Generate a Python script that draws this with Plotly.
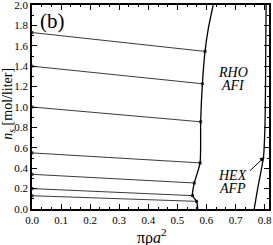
import plotly.graph_objects as go

# tie lines: left end at x=0 (value n), right end on the RHO/AFI boundary
tie_left_n = [1.73, 1.40, 1.00, 0.55, 0.34, 0.20, 0.13]
tie_right_x = [0.595, 0.586, 0.580, 0.578, 0.558, 0.552, 0.566]
tie_right_n = [1.545, 1.228, 0.855, 0.452, 0.255, 0.131, 0.075]

# RHO/AFI coexistence boundary
rho_x = [0.570, 0.566, 0.552, 0.558, 0.578, 0.580, 0.586, 0.595, 0.607, 0.623]
rho_n = [0.0, 0.075, 0.131, 0.255, 0.452, 0.855, 1.228, 1.545, 1.78, 2.0]

# HEX/AFP boundary
hex_x = [0.764, 0.776, 0.796, 0.801, 0.803, 0.805]
hex_n = [0.0, 0.2, 0.51, 0.8, 1.2, 2.0]

x_ticks = [0.0, 0.1, 0.2, 0.3, 0.4, 0.5, 0.6, 0.7, 0.8]
y_ticks = [0.0, 0.2, 0.4, 0.6, 0.8, 1.0, 1.2, 1.4, 1.6, 1.8, 2.0]

FONT = "Liberation Serif"
fig = go.Figure()

for ln, rx, rn in zip(tie_left_n, tie_right_x, tie_right_n):
    fig.add_trace(go.Scatter(x=[0.0, rx], y=[ln, rn], mode="lines+markers",
                             line=dict(color="#3a3a3a", width=1),
                             marker=dict(color="#3a3a3a", size=3, symbol="square"),
                             showlegend=False, cliponaxis=False))

fig.add_trace(go.Scatter(x=rho_x, y=rho_n, mode="lines",
                         line=dict(color="black", width=1.3, shape="spline", smoothing=0.6),
                         showlegend=False))
fig.add_trace(go.Scatter(x=hex_x, y=hex_n, mode="lines",
                         line=dict(color="black", width=1.3, shape="spline", smoothing=0.6),
                         showlegend=False))

axis_common = dict(showline=True, linecolor="black", linewidth=1.5, mirror="allticks",
                   ticks="inside", ticklen=5, tickwidth=1, tickcolor="black",
                   showgrid=False, zeroline=False, automargin=False,
                   ticklabeloverflow="allow",
                   tickfont=dict(family=FONT, size=11, color="black"))

fig.update_xaxes(range=[0, 0.815], tickmode="array", tickvals=x_ticks,
                 ticktext=[f"{v:.1f}" for v in x_ticks],
                 minor=dict(dtick=0.1 / 3, tick0=0, ticks="inside", ticklen=2.5,
                            tickcolor="black", showgrid=False),
                 **axis_common)
fig.update_yaxes(range=[0, 2.0], tickmode="array", tickvals=y_ticks,
                 ticktext=[f"{v:.1f}" for v in y_ticks],
                 minor=dict(dtick=0.1, tick0=0, ticks="inside", ticklen=2.5,
                            tickcolor="black", showgrid=False),
                 **axis_common)

ann = []
ann.append(dict(text="(b)", x=0.022, y=1.98, xref="x", yref="y", showarrow=False,
                xanchor="left", yanchor="top", font=dict(family=FONT, size=21, color="black")))
ann.append(dict(text="<i>RHO</i>", x=0.691, y=1.34, showarrow=False,
                font=dict(family=FONT, size=14, color="black")))
ann.append(dict(text="<i>AFI</i>", x=0.691, y=1.21, showarrow=False,
                font=dict(family=FONT, size=14, color="black")))
ann.append(dict(text="<i>HEX</i>", x=0.688, y=0.327, showarrow=False,
                font=dict(family=FONT, size=14, color="black")))
ann.append(dict(text="<i>AFP</i>", x=0.691, y=0.199, showarrow=False,
                font=dict(family=FONT, size=14, color="black")))
ann.append(dict(text="", x=0.800, y=0.51, ax=-16, ay=15, showarrow=True,
                arrowhead=2, arrowsize=1, arrowwidth=1, arrowcolor="black"))
ann.append(dict(text="πρ<i>a</i><sup>2</sup>", x=0.505, y=-0.072, xref="paper", yref="paper",
                showarrow=False, xanchor="center", yanchor="top",
                font=dict(family=FONT, size=16, color="black")))
ann.append(dict(text="<i>n</i><sub><i>s</i></sub> [mol/liter]", x=-0.098, y=0.515,
                xref="paper", yref="paper", showarrow=False, textangle=-90,
                xanchor="center", yanchor="middle",
                font=dict(family=FONT, size=14, color="black")))
fig.update_layout(annotations=ann)

fig.update_layout(width=273, height=245, margin=dict(l=32, r=4, t=5, b=36, autoexpand=False),
                  plot_bgcolor="white", paper_bgcolor="white")

fig.write_html("out.html", config={"displayModeBar": False},
               post_script="document.body.style.margin='0';document.body.style.padding='0';")
